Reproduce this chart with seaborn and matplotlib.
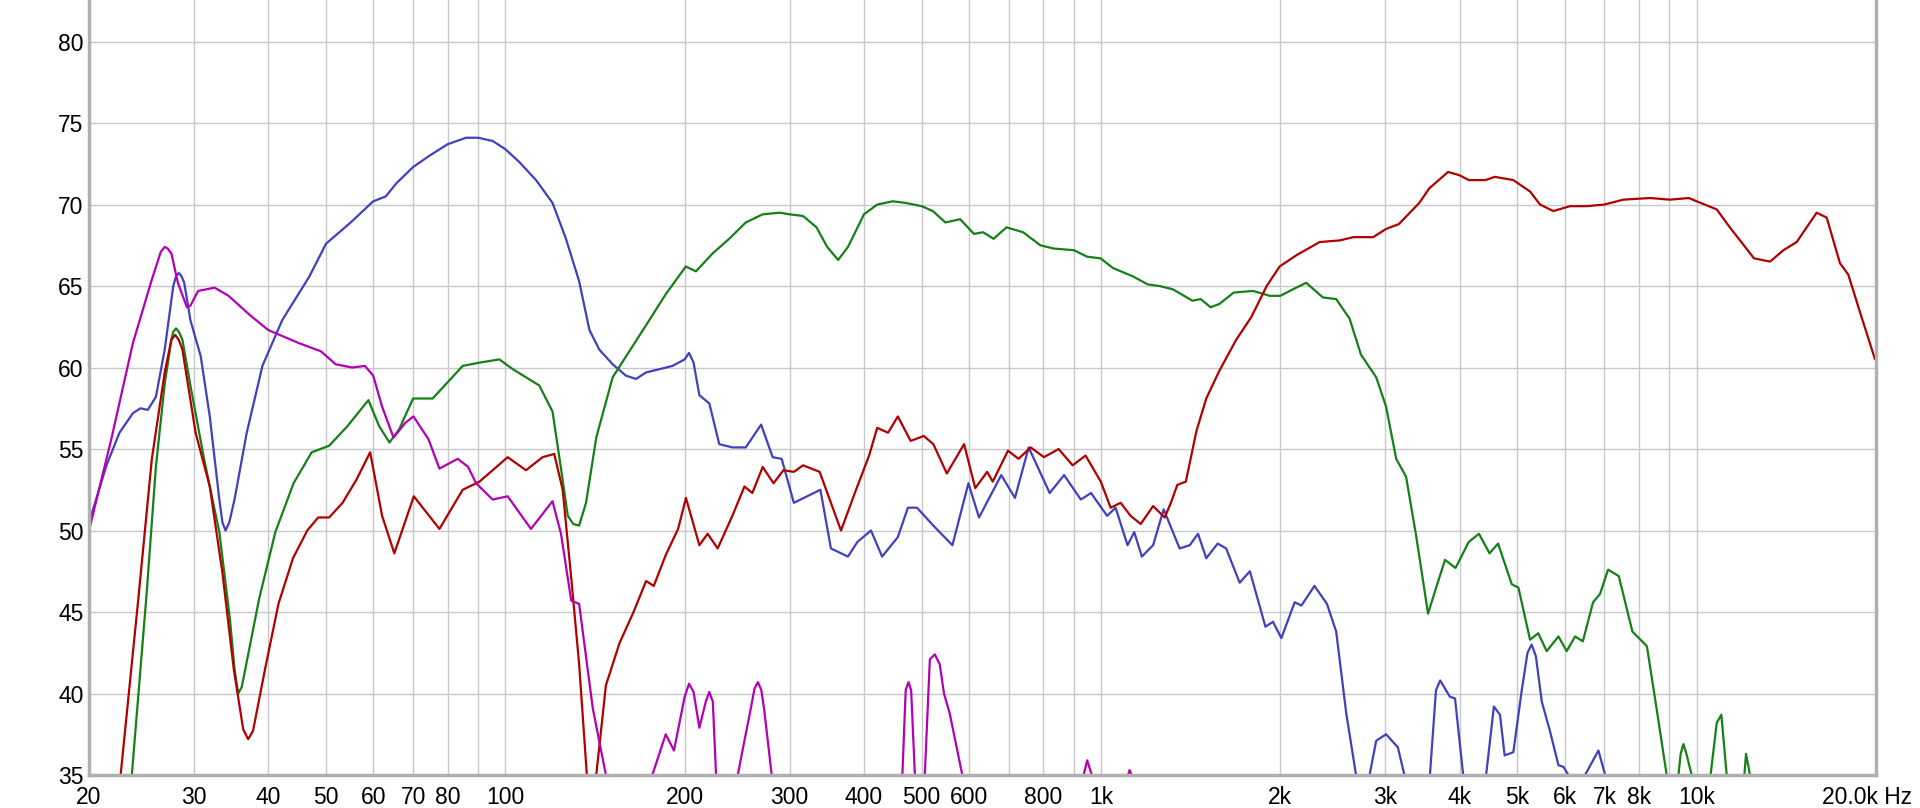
import matplotlib
matplotlib.use("Agg")
import matplotlib.pyplot as plt
import matplotlib.transforms as mtransforms
import pandas as pd
import seaborn as sns

# frequency responses (Hz, dB); values below 35 run off the bottom
blue_freq = [20, 20.2, 21.4, 22.5, 23.7, 24.4, 25.1, 25.9, 26.8, 27.7, 28.0, 28.3, 28.6, 28.9, 29.6, 30.8, 31.9,
             33.1, 33.5, 33.9, 34.4, 35.1, 36.8, 39.1, 42.2, 46.9, 50, 55, 60, 63, 65.6, 70, 74.6, 80, 85.9, 90,
             95.2, 100, 105.6, 112.6, 120, 126.4, 133, 138.4, 143.8, 151.4, 159.4, 165.7, 172.3, 181.5,
             190.8, 200, 203.4, 207, 211.7, 220, 228.6, 240.5, 253.3, 268.8, 281, 291, 305, 321, 338, 352, 376,
             390, 411, 429, 456, 474, 491, 523, 563, 599, 624, 680, 717, 756, 820, 867, 925, 962, 1024,
             1058, 1108, 1137, 1171, 1223, 1274, 1355, 1409, 1455, 1502, 1570, 1622, 1709, 1778, 1888,
             1944, 2008, 2114, 2170, 2282, 2395, 2482, 2580, 2680, 2750, 2824, 2897, 3010, 3150, 3231,
             3400, 3566, 3650, 3710, 3780, 3852, 3929, 4055, 4250, 4431, 4566, 4675, 4760, 4923, 5085,
             5200, 5283, 5370, 5495, 5671, 5860, 5975, 6090, 6300, 6495, 6840, 7020, 7300]
blue_db = [50.8, 51, 54, 56, 57.2, 57.5, 57.4, 58.2, 61.1, 65, 65.6, 65.8, 65.6, 65.2, 62.9, 60.7, 57,
           51.9, 50.5, 50, 50.5, 51.9, 56, 60.1, 62.9, 65.6, 67.6, 68.9, 70.2, 70.5, 71.3, 72.3, 73, 73.7, 74.1, 74.1,
           73.9, 73.4, 72.6, 71.5, 70.1, 67.9, 65.3, 62.3, 61.1, 60.2, 59.5, 59.3, 59.7, 59.9,
           60.1, 60.5, 60.9, 60.3, 58.3, 57.8, 55.3, 55.1, 55.1, 56.5, 54.5, 54.4, 51.7, 52.1, 52.5, 48.9, 48.4,
           49.3, 50, 48.4, 49.6, 51.4, 51.4, 50.3, 49.1, 52.9, 50.8, 53.4, 52, 55.1, 52.3, 53.4, 51.9, 52.3, 50.9,
           51.4, 49.1, 49.9, 48.4, 49.1, 51.3, 48.9, 49.1, 49.8, 48.3, 49.2, 48.9, 46.8, 47.5, 44.1,
           44.4, 43.4, 45.6, 45.4, 46.6, 45.5, 43.8, 38.8, 35, 33, 35, 37.1, 37.5, 36.7, 35,
           32, 35, 40.2, 40.8, 40.3, 39.8, 39.7, 35, 32, 35, 39.2, 38.7, 36.2, 36.4, 40.2,
           42.5, 43, 42.3, 39.5, 37.7, 35.6, 35.5, 35, 33, 35, 36.5, 35, 32]

green_freq = [23.0, 23.6, 25.0, 25.9, 26.8, 27.5, 27.7, 28.0, 28.3, 28.7, 29.6, 31.2, 33.1, 34.5, 35.1, 35.6,
              36.1, 38.6, 41.1, 44.1, 47.3, 50.6, 54.3, 58.9, 61.4, 63.9, 66.3, 70, 75.5, 80, 84.8, 90.5,
              97.7, 102.9, 108.3, 114, 120, 124, 127.3, 130, 133, 136.6, 142.1, 151.4, 161.5, 172.3, 185.9,
              200.9, 208.9, 222.8, 237.6, 253.3, 270.4, 289, 300, 316, 333, 347, 362, 376, 400, 421, 447,
              470, 500, 522, 548, 580, 612, 634, 660, 694, 740, 791, 833, 900, 948, 998, 1048, 1130, 1198,
              1254, 1320, 1424, 1470, 1527, 1580, 1670, 1800, 1920, 2000, 2100, 2210, 2358, 2482, 2614,
              2731, 2897, 3010, 3130, 3252, 3380, 3540, 3653, 3780, 3937, 4143, 4310, 4490, 4640, 4893,
              5020, 5251, 5420, 5600, 5860, 6050, 6250, 6440, 6700, 6880, 7100, 7400, 7800, 8250, 8570,
              8905, 9195, 9400, 9500, 9610, 9810, 10395, 10806, 11000, 11230, 11910, 12100, 12290, 12600]
green_db = [30, 35, 46.2, 53.9, 59, 61.7, 62.2, 62.4, 62.2, 61.7, 58.9, 54.4, 49.9, 44.5, 41.5, 40,
            40.4, 45.8, 49.9, 52.9, 54.8, 55.2, 56.4, 58, 56.4, 55.4, 56.2, 58.1, 58.1, 59.1, 60.1, 60.3,
            60.5, 59.9, 59.4, 58.9, 57.3, 53.8, 50.9, 50.4, 50.3, 51.7, 55.7, 59.4, 61, 62.6, 64.5,
            66.2, 65.9, 67, 67.9, 68.9, 69.4, 69.5, 69.4, 69.3, 68.6, 67.4, 66.6, 67.4, 69.4, 70, 70.2,
            70.1, 69.9, 69.6, 68.9, 69.1, 68.2, 68.3, 67.9, 68.6, 68.3, 67.5, 67.3, 67.2, 66.8, 66.7, 66.1, 65.6, 65.1,
            65, 64.8, 64.1, 64.2, 63.7, 63.9, 64.6, 64.7, 64.4, 64.4, 64.8, 65.2, 64.3, 64.2, 63,
            60.8, 59.4, 57.6, 54.4, 53.3, 49.7, 44.9, 46.5, 48.2, 47.7, 49.3, 49.8, 48.6, 49.2, 46.7,
            46.5, 43.3, 43.7, 42.6, 43.5, 42.6, 43.5, 43.2, 45.6, 46.1, 47.6, 47.2, 43.8, 42.9, 39,
            35, 33, 36.3, 36.9, 36.3, 35, 33, 38.2, 38.7, 35, 33, 36.3, 35, 32]

red_freq = [22.0, 22.6, 24.2, 25.5, 26.8, 27.5, 27.9, 28.3, 28.7, 30.2, 31.9, 33.5, 35, 36.3, 37, 37.7, 39.5,
            41.6, 44, 46.5, 48.5, 50.6, 53.3, 56.2, 59.3, 62.1, 65.1, 70.2, 77.5, 84.8, 90.5, 100.9, 108.3,
            115.5, 120.8, 124.8, 129, 133, 137, 139.5, 142.1, 147.5, 155.5, 163.7, 172.3, 177.5, 185.9, 195,
            201, 211.7, 218.6, 227.2, 240.5, 252, 259.8, 270.4, 282, 293, 305, 316, 337, 352, 366, 387, 408,
            421, 439, 456, 479, 504, 523, 551, 589, 615, 644, 658, 698, 727, 762, 802, 849, 896, 942,
            999, 1038, 1079, 1121, 1166, 1223, 1279, 1310, 1343, 1388, 1446, 1502, 1580, 1686, 1788,
            1897, 1995, 2130, 2329, 2517, 2652, 2864, 3009, 3162, 3422, 3558, 3825, 3996, 4146, 4420,
            4584, 4923, 5251, 5458, 5745, 6128, 6536, 7000, 7530, 8350, 9020, 9700, 10000, 10806, 11420,
            11825, 12480, 13280, 13985, 14720, 15900, 16530, 17400, 17970, 18800, 19925]
red_db = [30, 35, 45.8, 54.4, 59.7, 61.7, 62, 61.7, 61.1, 56, 52.7, 47.4, 41.5, 37.8, 37.2, 37.7, 41.5,
          45.5, 48.3, 50, 50.8, 50.8, 51.7, 53.1, 54.8, 50.9, 48.6, 52.1, 50.1, 52.5, 53, 54.5, 53.7,
          54.5, 54.7, 52.5, 47.1, 41.8, 35, 31, 35, 40.5, 43.1, 44.9, 46.9, 46.6, 48.5, 50.1,
          52, 49.1, 49.8, 48.9, 50.9, 52.7, 52.3, 53.9, 52.9, 53.7, 53.6, 54, 53.6, 51.7, 50, 52.4, 54.6,
          56.3, 56, 57, 55.5, 55.8, 55.3, 53.5, 55.3, 52.6, 53.6, 53, 54.9, 54.4, 55.1, 54.5, 55, 54, 54.6,
          53, 51.4, 51.7, 50.9, 50.4, 51.5, 50.8, 51.7, 52.8, 53, 56.1, 58.1, 59.8, 61.7, 63.1,
          65, 66.2, 66.9, 67.7, 67.8, 68, 68, 68.5, 68.8, 70.1, 71, 72, 71.8, 71.5, 71.5,
          71.7, 71.5, 70.8, 70, 69.6, 69.9, 69.9, 70, 70.3, 70.4, 70.3, 70.4, 70.2, 69.7, 68.5,
          67.8, 66.7, 66.5, 67.2, 67.7, 69.5, 69.2, 66.4, 65.7, 63.4, 60.5]

magenta_freq = [20, 21.8, 23.7, 25.5, 26.4, 26.8, 27.1, 27.5, 28.2, 29.2, 29.6, 30.5, 32.5, 34.3, 37.3, 40, 45,
                49, 51.9, 55.3, 58.1, 60, 62.1, 64.9, 67.9, 70.1, 74.3, 77.5, 83.2, 86.6, 89.3, 95.2, 100.9,
                110.4, 120, 124, 129, 133, 140.2, 147.5, 160, 176.5, 185.9, 191.9, 200, 203.4, 207, 211.7,
                217, 220, 223, 225.8, 235, 245.6, 250.1, 258, 262, 265.5, 269, 272, 280, 300, 440, 464,
                470, 475, 480, 487, 496, 506, 516, 526, 536, 545, 557, 585, 620, 920, 935, 948, 965, 985,
                1100, 1110, 1117, 1125, 1140]
magenta_db = [50, 55.6, 61.5, 65.4, 67.1, 67.4, 67.3, 67, 65.2, 63.7, 63.8, 64.7, 64.9, 64.4, 63.2, 62.3, 61.5,
              61, 60.2, 60, 60.1, 59.5, 57.6, 55.7, 56.6, 57, 55.6, 53.8, 54.4, 53.9, 52.9, 51.9, 52.1,
              50.1, 51.8, 49.8, 45.7, 45.5, 39.1, 35, 30, 35, 37.5, 36.5, 39.8, 40.6, 40.1, 37.9,
              39.5, 40.1, 39.5, 35, 32, 35, 36.5, 39, 40.3, 40.7, 40.2, 39, 35, 30, 30, 35,
              40.2, 40.7, 40.2, 35, 32, 35, 42.1, 42.4, 41.8, 40, 38.8, 35, 30, 30, 35, 35.9, 35, 33,
              33, 35, 35.3, 35, 33]

tick_freqs = [20, 30, 40, 50, 60, 70, 80, 90, 100, 200, 300, 400, 500, 600, 700, 800, 900,
              1000, 2000, 3000, 4000, 5000, 6000, 7000, 8000, 9000, 10000, 20000]
tick_labels = ["20", "30", "40", "50", "60", "70", "80", "", "100", "200", "300", "400", "500", "600", "",
               "800", "", "1k", "2k", "3k", "4k", "5k", "6k", "7k", "8k", "", "10k", "20.0k Hz"]
y_ticks = [35, 40, 45, 50, 55, 60, 65, 70, 75, 80]

sns.set_theme(style="whitegrid")
plt.rcParams["font.family"] = ["Liberation Sans", "DejaVu Sans"]

fig = plt.figure(figsize=(19.2, 8.08), dpi=100)
ax = fig.add_axes([89 / 1920, 33 / 808, (1876 - 89) / 1920, 775 / 808])

series = [
    (blue_freq, blue_db, "#4040c0"),
    (green_freq, green_db, "#158015"),
    (red_freq, red_db, "#b00000"),
    (magenta_freq, magenta_db, "#b400b4"),
]
for f, db, col in series:
    df = pd.DataFrame({"freq": f, "db": db})
    sns.lineplot(data=df, x="freq", y="db", color=col, linewidth=1.6, ax=ax, sort=False)

ax.set_xscale("log")
ax.set_xlim(20, 20000)
ax.set_ylim(35, 82.55)
ax.set_xticks(tick_freqs)
ax.set_xticklabels(tick_labels)
ax.xaxis.set_minor_locator(matplotlib.ticker.NullLocator())
ax.set_yticks(y_ticks)
ax.set_yticklabels([str(v) for v in y_ticks])
ax.set_xlabel("")
ax.set_ylabel("")

ax.grid(True, color="#c8c8c8", linewidth=1.0)
ax.tick_params(axis="both", length=0, labelsize=16.5, colors="black")
ax.tick_params(axis="x", pad=8)
ax.tick_params(axis="y", pad=4)
for side in ["left", "bottom", "right"]:
    ax.spines[side].set_visible(True)
    ax.spines[side].set_color("#b0b0b0")
    ax.spines[side].set_linewidth(2.5)
ax.spines["top"].set_visible(False)

# the last frequency label sits inside the figure, right-aligned
last = ax.get_xticklabels()[-1]
last.set_horizontalalignment("right")
last.set_transform(last.get_transform() + mtransforms.ScaledTranslation(0.36, 0, fig.dpi_scale_trans))

fig.savefig("out.png", dpi=100, facecolor="white")
